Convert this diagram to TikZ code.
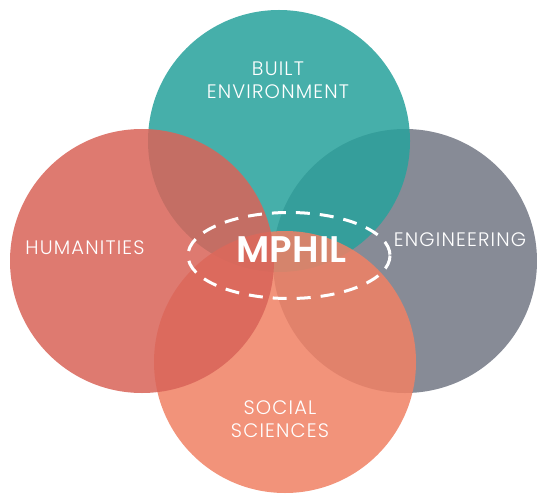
\documentclass[tikz,border=0pt]{standalone}
\usepackage{fontspec}
\setmainfont{Poppins}[UprightFont={* Light}, BoldFont={* SemiBold}]
\newfontfamily\labelfont{Poppins Light}[LetterSpace=6]
\definecolor{teal}{RGB}{40,162,156}
\definecolor{redc}{RGB}{217,100,89}
\definecolor{greyc}{RGB}{115,120,133}
\definecolor{orangec}{RGB}{240,129,100}
\tikzset{
  disc/.style={fill opacity=0.86},
  label/.style={text=white, align=center, font=\labelfont\fontsize{19.5}{23}\selectfont},
}

\begin{document}
\begin{tikzpicture}[x=1pt,y=-1pt]
        \useasboundingbox (0,0) rectangle (537,494);
        \fill[greyc,disc] (405,261) circle (132);
        \fill[teal,disc] (279,141) circle (131);
        \fill[orangec,disc] (285,362) circle (131);
        \fill[redc,disc] (142,261) circle (132);
        \draw[white, line width=3, dash pattern=on 14 off 10] (289,255.5) ellipse (101 and 43);
        \node[label] (built) at (278,80) {BUILT\\ENVIRONMENT};
        \node[label] (hum) at (85,248) {HUMANITIES};
        \node[label] (eng) at (460,240) {ENGINEERING};
        \node[label] (soc) at (280,419) {SOCIAL\\SCIENCES};
        \node[text=white, font=\fontsize{37}{37}\bfseries\selectfont] (mphil) at (291.5,250) {MPHIL};
    \end{tikzpicture}
\end{document}
